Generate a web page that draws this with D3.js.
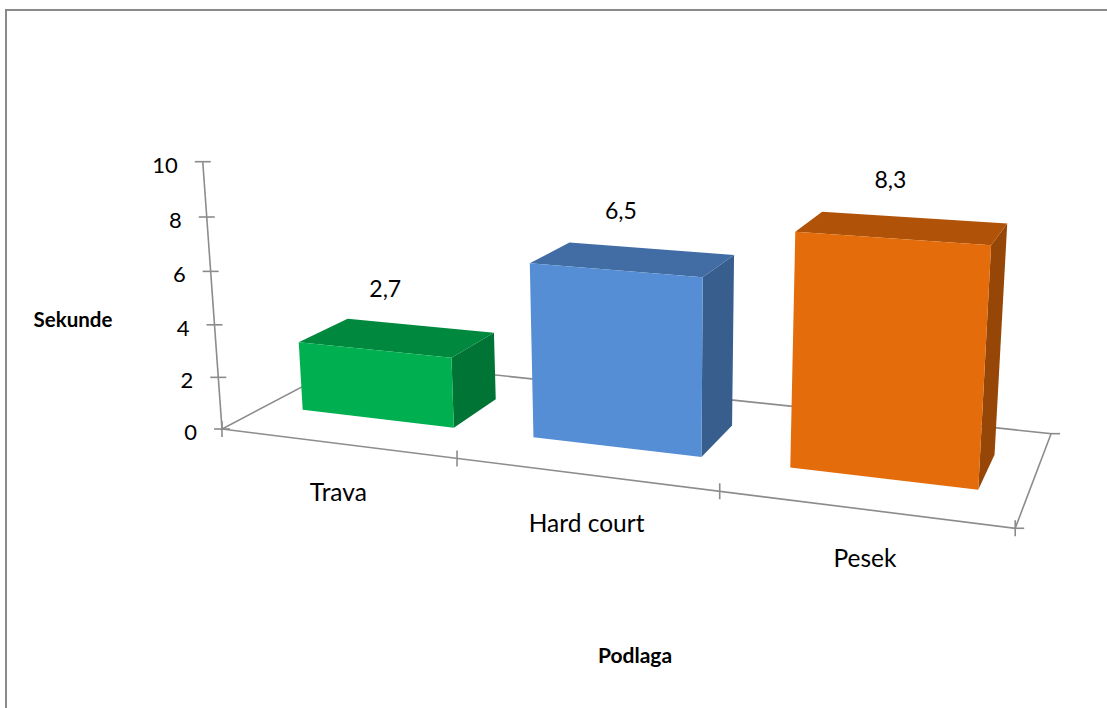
<!DOCTYPE html>
<html>
<head>
<meta charset="utf-8">
<script src="https://cdn.jsdelivr.net/npm/d3@7"></script>
<style>
  html, body { margin: 0; padding: 0; background: #ffffff; }
  svg { display: block; font-family: Lato, "Liberation Sans", sans-serif; }
</style>
</head>
<body>
<svg id="chart" width="1107" height="708"></svg>
<script>
// Data: time in seconds per court surface
const categories = ["Trava", "Hard court", "Pesek"];
const seconds = [2.7, 6.5, 8.3];
const valueTicks = [0, 2, 4, 6, 8, 10];
const barColors = ["#00b050", "#558ed5", "#e46c0a"];
const valueTitle = "Sekunde";
const categoryTitle = "Podlaga";

const svg = d3.select("#chart");
const W = 1107, H = 708;

// World space: u runs along the categories, v is the normalised value, w is depth into the floor.
const x = d3.scaleBand()
  .domain(categories)
  .range([0, categories.length])
  .paddingInner(1 / 3)
  .paddingOuter(1 / 6);
const y = d3.scaleLinear().domain([0, 10]).range([0, 1]);
const floorDepth = [0, 1];
const barDepth = [0.31, 0.69];

// Perspective camera as homogeneous columns (origin, u, v, w).
const cam = {
  o: [222, 429, 1],
  u: [211.0, 5.3, -0.0526],
  v: [-27.76, -274.1, -0.042],
  w: [182.0, -17.04, 0.1444]
};
function project(u, v, w) {
  const h = [0, 1, 2].map(i => cam.o[i] + u * cam.u[i] + v * cam.v[i] + w * cam.w[i]);
  return [h[0] / h[2], h[1] / h[2]];
}

function shade(color, f) {
  const c = d3.rgb(color);
  return d3.rgb(c.r * f, c.g * f, c.b * f).formatHex();
}

const polygon = d3.line().curve(d3.curveLinearClosed);
const segment = d3.line();
const gridColor = "#8c8c8c";
const uMax = x.step() * categories.length;

// Chart frame
svg.append("path")
  .attr("d", `M6,${H + 5}V10H${W + 5}`)
  .attr("fill", "none")
  .attr("stroke", "#8a8a8a")
  .attr("stroke-width", 2);

// Floor outline
const floor = svg.append("g").attr("fill", "none").attr("stroke", gridColor).attr("stroke-width", 1.6);
floor.append("path").attr("d", polygon([
  project(0, 0, floorDepth[0]),
  project(uMax, 0, floorDepth[0]),
  project(uMax, 0, floorDepth[1]),
  project(0, 0, floorDepth[1])
]));

// Category ticks on the front floor edge
d3.range(categories.length + 1).forEach(i => {
  const [px, py] = project(i * x.step(), 0, floorDepth[0]);
  floor.append("path").attr("d", segment([[px, py - 8], [px, py + 8]]));
});
// Depth tick stubs on the right edge
floorDepth.forEach(wv => {
  const [px, py] = project(uMax, 0, wv);
  floor.append("path").attr("d", segment([[px, py], [px + 9, py]]));
});

// Value axis
const axis = svg.append("g");
axis.append("path")
  .attr("d", segment([project(0, y(0), 0), project(0, y(10), 0)]))
  .attr("fill", "none").attr("stroke", gridColor).attr("stroke-width", 1.6);
valueTicks.forEach(t => {
  const [px, py] = project(0, y(t), 0);
  axis.append("path")
    .attr("d", segment([[px - 8, py], [px + 8, py]]))
    .attr("fill", "none").attr("stroke", gridColor).attr("stroke-width", 1.6);
  axis.append("text")
    .attr("x", px - 25)
    .attr("y", py + 11)
    .attr("text-anchor", "end")
    .attr("font-size", 22)
    .attr("fill", "#000")
    .text(t);
});

// Bars: right side, top, then front face
const bars = svg.append("g");
categories.forEach((c, i) => {
  const u0 = x(c), u1 = x(c) + x.bandwidth();
  const v = y(seconds[i]);
  const [w0, w1] = barDepth;
  const g = bars.append("g");
  g.append("path")
    .attr("d", polygon([project(u1, 0, w0), project(u1, 0, w1), project(u1, v, w1), project(u1, v, w0)]))
    .attr("fill", shade(barColors[i], 0.66));
  g.append("path")
    .attr("d", polygon([project(u0, v, w0), project(u1, v, w0), project(u1, v, w1), project(u0, v, w1)]))
    .attr("fill", shade(barColors[i], 0.77));
  g.append("path")
    .attr("d", polygon([project(u0, 0, w0), project(u1, 0, w0), project(u1, v, w0), project(u0, v, w0)]))
    .attr("fill", barColors[i]);

  // value label above the bar
  const [lx, ly] = project(u0 + x.bandwidth() / 2, v, 0.5);
  svg.append("text")
    .attr("x", lx - 12)
    .attr("y", ly - 40)
    .attr("text-anchor", "middle")
    .attr("font-size", 23)
    .attr("fill", "#000")
    .text(String(seconds[i]).replace(".", ","));

  // category label under the front edge
  const [cx, cy] = project(i * x.step() + x.step() / 2, 0, floorDepth[0]);
  svg.append("text")
    .attr("x", cx + 2)
    .attr("y", cy + 58)
    .attr("text-anchor", "middle")
    .attr("font-size", 24.5)
    .attr("fill", "#000")
    .text(c);
});

// Axis titles
svg.append("text")
  .attr("x", 73)
  .attr("y", 327)
  .attr("text-anchor", "middle")
  .attr("font-size", 20.5)
  .attr("font-weight", "bold")
  .attr("fill", "#000")
  .text(valueTitle);
svg.append("text")
  .attr("x", 635)
  .attr("y", 663)
  .attr("text-anchor", "middle")
  .attr("font-size", 21)
  .attr("font-weight", "bold")
  .attr("fill", "#000")
  .text(categoryTitle);
</script>
</body>
</html>
